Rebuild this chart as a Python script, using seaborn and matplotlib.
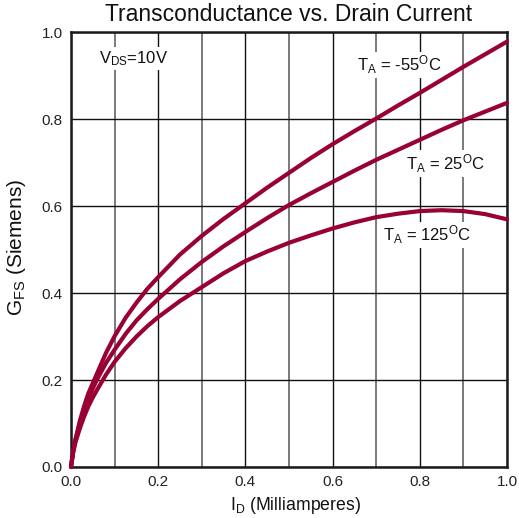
import matplotlib
matplotlib.use("Agg")
import matplotlib.pyplot as plt
import seaborn as sns
import pandas as pd

# Drain current (mA) sample points
drain_current = [0, 0.005, 0.01, 0.02, 0.03, 0.04, 0.05, 0.06, 0.08, 0.1, 0.125,
                 0.15, 0.175, 0.2, 0.25, 0.3, 0.35, 0.4, 0.45, 0.5, 0.55, 0.6,
                 0.65, 0.7, 0.75, 0.8, 0.85, 0.9, 0.95, 1.0]

# Forward transconductance (S) at each ambient temperature
gfs_minus55 = [0, 0.038, 0.062, 0.105, 0.14, 0.17, 0.193, 0.216, 0.262, 0.301, 0.343,
               0.378, 0.41, 0.437, 0.489, 0.532, 0.571, 0.607, 0.643, 0.677, 0.711, 0.743,
               0.773, 0.802, 0.832, 0.861, 0.891, 0.921, 0.95, 0.979]
gfs_25 = [0, 0.037, 0.062, 0.098, 0.13, 0.157, 0.181, 0.202, 0.239, 0.27, 0.306,
          0.337, 0.363, 0.387, 0.432, 0.472, 0.508, 0.541, 0.573, 0.603, 0.63, 0.656,
          0.682, 0.707, 0.73, 0.753, 0.776, 0.798, 0.818, 0.838]
gfs_125 = [0, 0.033, 0.056, 0.088, 0.116, 0.14, 0.16, 0.178, 0.212, 0.242, 0.273,
           0.3, 0.324, 0.345, 0.382, 0.414, 0.446, 0.474, 0.496, 0.516, 0.533, 0.549,
           0.563, 0.575, 0.583, 0.589, 0.591, 0.589, 0.582, 0.57]

curve_labels = [r"T$_{\rm A}$ = -55$^{\rm O}$C",
                r"T$_{\rm A}$ = 25$^{\rm O}$C",
                r"T$_{\rm A}$ = 125$^{\rm O}$C"]
label_pos = [(0.656, 0.925), (0.768, 0.699), (0.716, 0.534)]

x_ticks = [0.0, 0.2, 0.4, 0.6, 0.8, 1.0]
y_ticks = [0.0, 0.2, 0.4, 0.6, 0.8, 1.0]

sns.set_style("white")
plt.rcParams["font.family"] = ["Liberation Sans", "DejaVu Sans"]
plt.rcParams["mathtext.fontset"] = "custom"
plt.rcParams["mathtext.rm"] = "Liberation Sans"
plt.rcParams["mathtext.it"] = "Liberation Sans:italic"
plt.rcParams["mathtext.bf"] = "Liberation Sans:bold"

curve_color = "#990033"
text_color = "#111111"

n = len(drain_current)
df = pd.DataFrame({
    "I_D": drain_current * 3,
    "G_FS": gfs_minus55 + gfs_25 + gfs_125,
    "T_A": ["-55"] * n + ["25"] * n + ["125"] * n,
})

fig = plt.figure(figsize=(5.19, 5.18), dpi=100)
ax = fig.add_axes([71 / 519, 51 / 518, 436 / 519, 434.5 / 518])

sns.lineplot(data=df, x="I_D", y="G_FS", hue="T_A",
             palette=[curve_color] * 3, linewidth=3.0, legend=False,
             ax=ax, zorder=6, clip_on=False)

ax.set_xlim(0, 1.0)
ax.set_ylim(0, 1.0)
ax.set_xticks(x_ticks)
ax.set_xticks([0.1, 0.3, 0.5, 0.7, 0.9], minor=True)
ax.set_yticks(y_ticks)
ax.set_xticklabels([f"{v:.1f}" for v in x_ticks])
ax.set_yticklabels([f"{v:.1f}" for v in y_ticks])
ax.tick_params(axis="both", which="both", length=0, labelsize=11, colors="#222222")
ax.tick_params(axis="x", pad=6)
ax.tick_params(axis="y", pad=6)

ax.grid(which="major", color="#111111", linewidth=1.0, zorder=1)
ax.grid(axis="x", which="minor", color="#7a7a7a", linewidth=1.4, zorder=1)
ax.set_axisbelow(True)

for side in ["left", "bottom", "top", "right"]:
    ax.spines[side].set_color("#1a1a1a")
    ax.spines[side].set_linewidth(1.8)
    ax.spines[side].set_zorder(4)

ax.set_title("Transconductance vs. Drain Current", fontsize=16.5, pad=8, color=text_color)
ax.set_xlabel(r"I$_{\rm D}$ (Milliamperes)", fontsize=12.7, color=text_color)
ax.xaxis.set_label_coords(0.515, -0.098)
ax.xaxis.label.set_va("baseline")
ax.set_ylabel(r"G$_{\rm FS}$ (Siemens)", fontsize=15, color=text_color)
ax.yaxis.set_label_coords(-0.126, 0.505)
ax.yaxis.label.set_va("center")

box = dict(facecolor="white", edgecolor="none", pad=1.5)
ax.text(0.064, 0.94, r"V$_{\rm DS}$=10V", fontsize=12, va="center", ha="left",
        color=text_color, bbox=box, zorder=5)
for text, (tx, ty) in zip(curve_labels, label_pos):
    ax.text(tx, ty, text, fontsize=12, va="center", ha="left",
            color=text_color, bbox=box, zorder=5)

fig.savefig("out.png", dpi=100)
